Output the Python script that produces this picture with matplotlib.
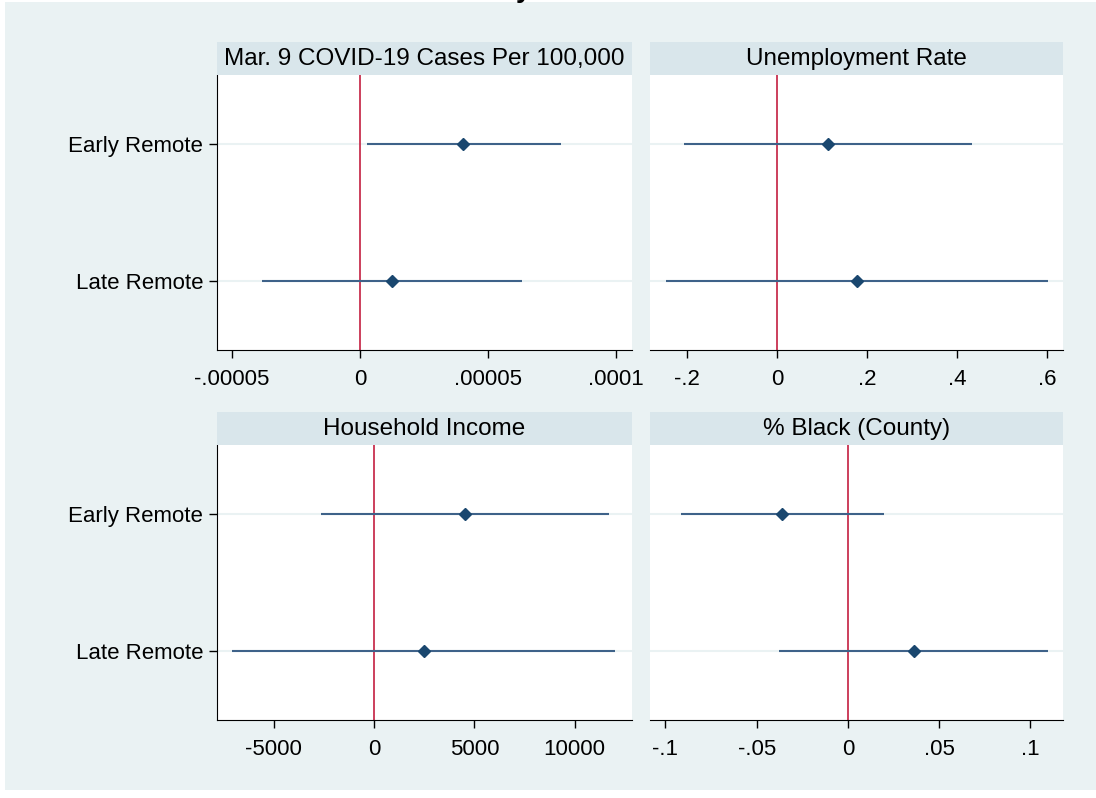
import numpy as np
import matplotlib.pyplot as plt
from matplotlib.patches import Rectangle

plt.rcParams['font.family'] = ['Liberation Sans', 'DejaVu Sans']

# coefficient plots, Early / Late remote
groups = ["Early Remote", "Late Remote"]
titles = ["Mar. 9 COVID-19 Cases Per 100,000", "Unemployment Rate",
          "Household Income", "% Black (County)"]

est = [[0.0000402, 0.0000125],
       [0.113, 0.178],
       [4540, 2490],
       [-0.0362, 0.0362]]
lo = [[0.0000027, -0.0000383],
      [-0.207, -0.247],
      [-2640, -7080],
      [-0.0915, -0.0378]]
hi = [[0.0000785, 0.0000633],
      [0.433, 0.602],
      [11710, 12010],
      [0.0197, 0.1096]]

xticks = [[-0.00005, 0, 0.00005, 0.0001],
          [-0.2, 0, 0.2, 0.4, 0.6],
          [-5000, 0, 5000, 10000],
          [-0.1, -0.05, 0, 0.05, 0.1]]
xticklabels = [["-.00005", "0", ".00005", ".0001"],
               ["-.2", "0", ".2", ".4", ".6"],
               ["-5000", "0", "5000", "10000"],
               ["-.1", "-.05", "0", ".05", ".1"]]
xlims = [(-0.0000559, 0.0001062), (-0.282, 0.636), (-7830, 12860), (-0.1085, 0.118)]

bg = "#EAF2F3"
strip_col = "#D9E6EB"
line_col = "#3E6289"
mark_col = "#1A476F"
ref_col = "#C8304F"

fig = plt.figure(figsize=(10.96, 7.98), dpi=100)
fig.patches.append(Rectangle((5/1096, 8/798), 1091/1096, 788/798,
                             transform=fig.transFigure, facecolor=bg,
                             edgecolor="none", zorder=-10))
# title is cut off at the top in the original, only a bit of it shows
fig.text(0.478, 1.012, "y", fontsize=20, fontweight="bold", ha="center", va="center")

W, H = 1096, 798
lefts = [217, 650, 217, 650]
widths = [415, 413, 415, 413]
tops = [75, 75, 445, 445]
ph = 275
sh = 33

for i in range(4):
    l = lefts[i] / W
    w = widths[i] / W
    b = 1 - (tops[i] + ph) / H
    ax = fig.add_axes([l, b, w, ph / H])
    sax = fig.add_axes([l, 1 - tops[i] / H, w, sh / H])
    sax.set_facecolor(strip_col)
    sax.set_xticks([]); sax.set_yticks([])
    for s in sax.spines.values():
        s.set_visible(False)
    sax.text(0.5, 0.48, titles[i], ha="center", va="center", fontsize=17.5)

    y = np.arange(1, len(groups) + 1)
    for yy in y:
        ax.axhline(yy, color=bg, lw=1.5, zorder=0)
    ax.axvline(0, color=ref_col, lw=1.3, zorder=1)
    ax.hlines(y, lo[i], hi[i], color=line_col, lw=1.5, zorder=2)
    ax.plot(est[i], y, "D", color=mark_col, ms=6, zorder=3)

    ax.set_ylim(2.5, 0.5)
    ax.set_xlim(*xlims[i])
    ax.set_xticks(xticks[i])
    ax.set_xticklabels(xticklabels[i], fontsize=16)
    ax.spines["top"].set_visible(False)
    ax.spines["right"].set_visible(False)
    ax.tick_params(axis="x", length=6, width=1, pad=8)
    if i % 2 == 0:
        ax.set_yticks(y)
        ax.set_yticklabels(groups, fontsize=16)
        ax.tick_params(axis="y", length=6, width=1, pad=4)
    else:
        ax.spines["left"].set_visible(False)
        ax.set_yticks([])

fig.savefig("out.png", dpi=100)
